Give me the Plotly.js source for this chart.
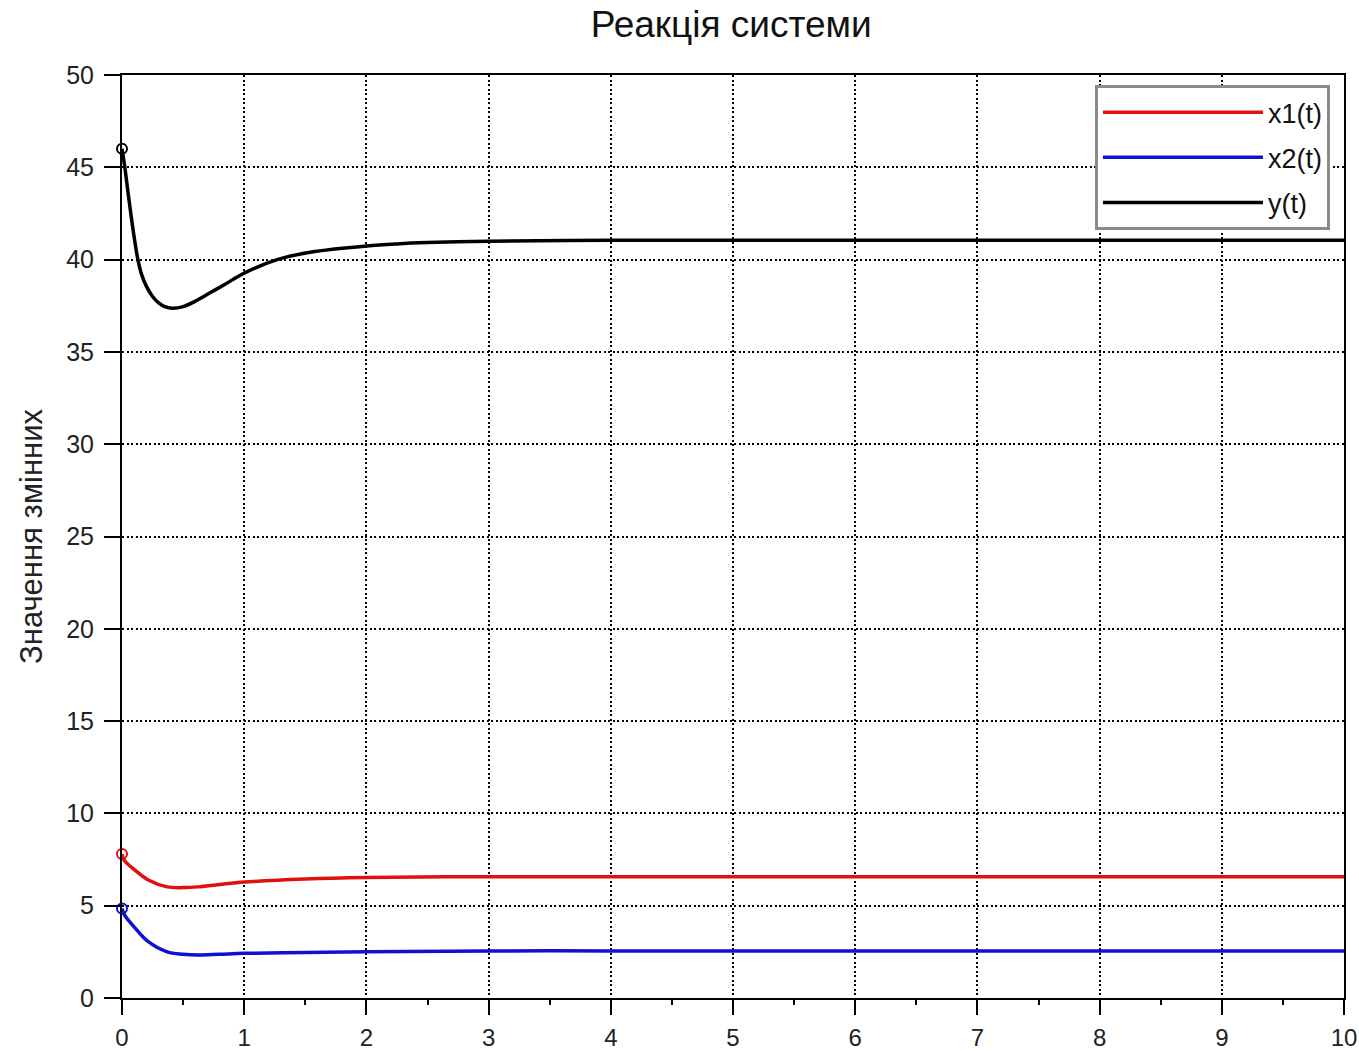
<!DOCTYPE html>
<html>
<head>
<meta charset="utf-8">
<script src="https://cdn.plot.ly/plotly-3.0.1.min.js"></script>
<style>html,body{margin:0;padding:0;background:#fff}#chart{width:1359px;height:1051px}</style>
</head>
<body>
<div id="chart"></div>
<script>
// Time samples (s) and values
const t_y  = [0, 0.025, 0.05, 0.075, 0.1, 0.13, 0.16, 0.2, 0.25, 0.3, 0.35, 0.41, 0.5, 0.6, 0.72, 0.84, 1.0, 1.27, 1.54, 2.0, 2.25, 2.5, 3, 4, 5, 6, 7, 8, 9, 10];
const y_t  = [46.0, 44.9, 43.6, 42.35, 41.2, 40.0, 39.2, 38.55, 38.0, 37.65, 37.45, 37.36, 37.45, 37.75, 38.2, 38.65, 39.27, 40.0, 40.4, 40.74, 40.85, 40.92, 41.0, 41.05, 41.05, 41.05, 41.05, 41.05, 41.05, 41.05];

const t_x1 = [0, 0.02, 0.106, 0.215, 0.37, 0.5, 0.62, 0.8, 1.0, 1.5, 2.0, 3, 4, 5, 6, 7, 8, 9, 10];
const x1_t = [7.8, 7.45, 6.93, 6.39, 6.02, 5.98, 6.02, 6.15, 6.28, 6.45, 6.53, 6.57, 6.57, 6.57, 6.57, 6.57, 6.57, 6.57, 6.57];

const t_x2 = [0, 0.02, 0.106, 0.215, 0.37, 0.5, 0.62, 0.8, 1.0, 1.5, 2.0, 3, 4, 5, 6, 7, 8, 9, 10];
const x2_t = [4.85, 4.5, 3.8, 3.05, 2.5, 2.37, 2.33, 2.37, 2.42, 2.47, 2.5, 2.55, 2.55, 2.55, 2.55, 2.55, 2.55, 2.55, 2.55];

const names = ['x1(t)', 'x2(t)', 'y(t)'];
const colors = ['#e01010', '#1010d0', '#000000'];
const xTicks = [0,1,2,3,4,5,6,7,8,9,10];
const yTicks = [0,5,10,15,20,25,30,35,40,45,50];

const series = [[t_x1, x1_t], [t_x2, x2_t], [t_y, y_t]];
const data = [];
series.forEach((s, i) => {
  data.push({
    x: s[0], y: s[1], name: names[i], legendgroup: 'g' + i, type: 'scatter', mode: 'lines',
    line: {color: colors[i], width: 3.5, shape: 'spline', smoothing: 1.0}
  });
});
series.forEach((s, i) => {
  data.push({
    x: [s[0][0]], y: [s[1][0]], name: names[i], showlegend: false, type: 'scatter', mode: 'markers', cliponaxis: false,
    marker: {symbol: 'circle-open', size: 10, color: colors[i], line: {width: 2, color: colors[i]}}
  });
});

const fontFam = '"Liberation Sans", Arial, sans-serif';
const dotted = '2px,2.5px';
const layout = {
  width: 1359, height: 1051,
  paper_bgcolor: '#fff', plot_bgcolor: '#fff',
  margin: {l: 122, r: 15, t: 75, b: 53},
  font: {family: fontFam, color: '#000'},
  title: {text: 'Реакція системи', font: {size: 37, family: fontFam, color: '#111'}, x: 0.538, xanchor: 'center', y: 0.977, yanchor: 'middle'},
  showlegend: true,
  legend: {x: 0.9885, xanchor: 'right', y: 0.989, yanchor: 'top', bgcolor: '#fff', bordercolor: '#8a8a8a', borderwidth: 3,
           traceorder: 'grouped', tracegroupgap: 7,
           font: {size: 27, family: fontFam, color: '#111'}, itemwidth: 160},
  xaxis: {range: [0, 10], tickvals: xTicks, ticktext: xTicks.map(String), showline: true, linecolor: '#000', linewidth: 2, mirror: true,
          ticks: 'outside', ticklen: 15, tickwidth: 2, tickcolor: '#000', ticklabelstandoff: 2,
          showgrid: true, gridcolor: '#000', griddash: dotted, gridwidth: 2,
          zeroline: false, tickfont: {size: 24, family: fontFam, color: '#222'},
          minor: {dtick: 0.5, ticks: 'outside', ticklen: 5, tickwidth: 2, tickcolor: '#000', showgrid: false}},
  yaxis: {range: [0, 50], tickvals: yTicks, ticktext: yTicks.map(String), showline: true, linecolor: '#000', linewidth: 2, mirror: true,
          ticks: 'outside', ticklen: 16, tickwidth: 2, tickcolor: '#000', ticklabelstandoff: 5,
          showgrid: true, gridcolor: '#000', griddash: dotted, gridwidth: 2,
          zeroline: false, tickfont: {size: 25, family: fontFam, color: '#222'},
          title: {text: 'Значення змінних', font: {size: 31, family: fontFam, color: '#222'}, standoff: 14}}
};

Plotly.newPlot('chart', data, layout, {displayModeBar: false, staticPlot: true});
</script>
</body>
</html>
